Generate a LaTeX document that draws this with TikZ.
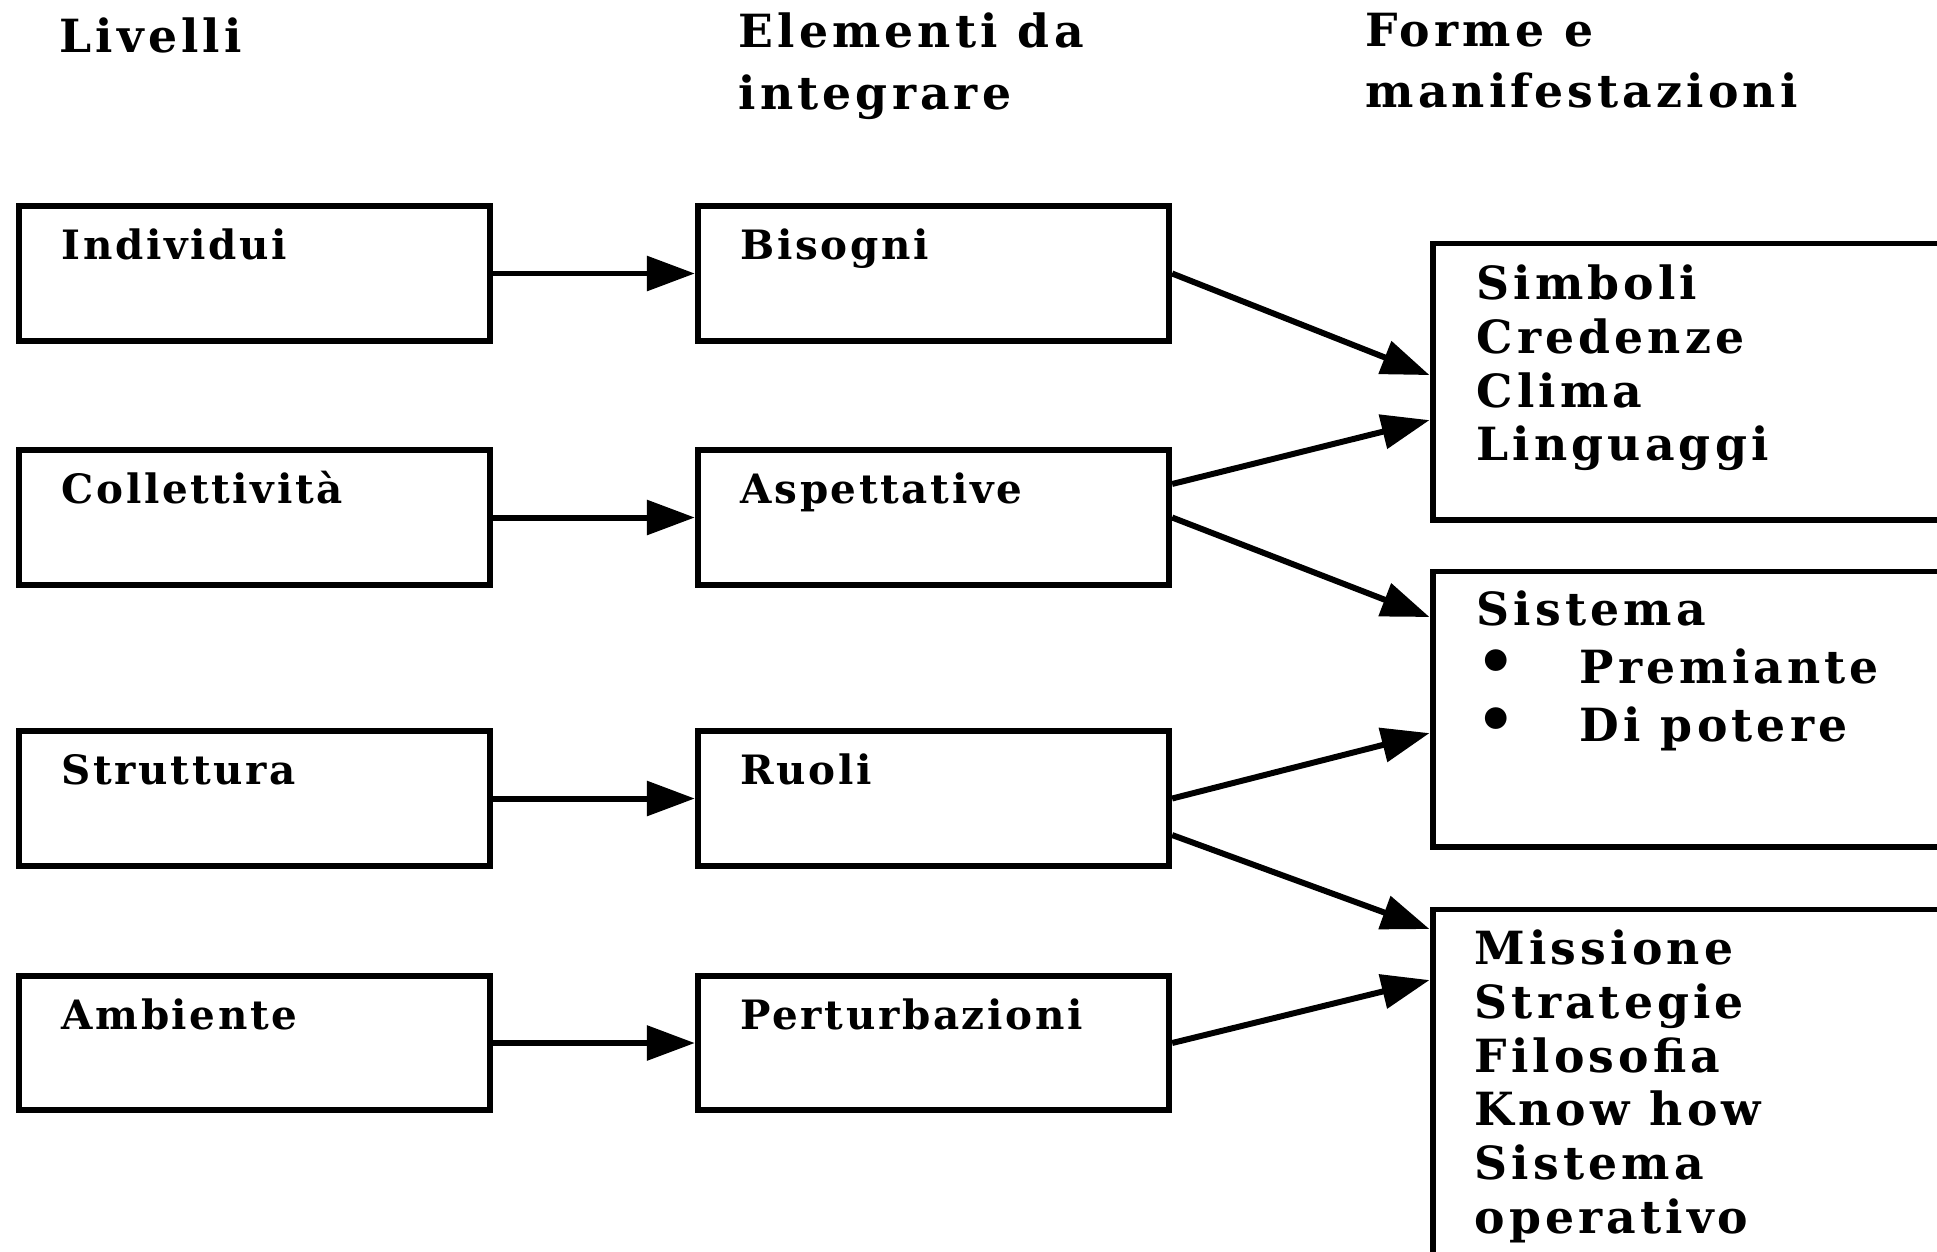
\documentclass[tikz,border=0pt]{standalone}
\usepackage{fontspec}
\setmainfont{DejaVu Serif}
\usetikzlibrary{arrows.meta}

\begin{document}
\begin{tikzpicture}[x=0.01cm,y=-0.01cm,
	box/.style={draw,line width=1.7pt,minimum width=4.71cm,minimum height=1.34cm,inner sep=0pt},
	bigbox/.style={draw,line width=1.7pt,minimum width=7cm,inner sep=0pt,anchor=north west},
	arr/.style={line width=1.7pt,-{Triangle[length=0.48cm,width=0.34cm]}},
	lbl/.style={font=\bfseries\fontsize{11.5}{13}\selectfont\addfontfeature{LetterSpace=6.5},anchor=base west,inner sep=0pt,xshift=0.45cm,yshift=-0.56cm},
	hdr/.style={font=\bfseries\fontsize{13}{17.6}\selectfont\addfontfeature{LetterSpace=9},align=left,anchor=north west,inner sep=0pt},
	lst/.style={font=\bfseries\fontsize{13}{15.3}\selectfont\addfontfeature{LetterSpace=9},align=left,anchor=north west,inner sep=0pt}]
	\useasboundingbox (0,0) rectangle (1937,1251);
	\clip (0,0) rectangle (1937,1251);
	\node[hdr] (liv) at (59,17) {Livelli};
	\node[hdr] (ele) at (738,12) {Elementi da\\integrare};
	\node[hdr] (for) at (1365,12) {Forme e\\manifestazioni};
	\node[box,label={[lbl]north west:Individui}] (ind) at (254.5,273.5) {};
	\node[box,label={[lbl]north west:Collettività}] (col) at (254.5,517.5) {};
	\node[box,label={[lbl]north west:Struttura}] (str) at (254.5,798.5) {};
	\node[box,label={[lbl]north west:Ambiente}] (amb) at (254.5,1043) {};
	\node[box,label={[lbl]north west:Bisogni}] (bis) at (933.5,273.5) {};
	\node[box,label={[lbl]north west:Aspettative}] (asp) at (933.5,517.5) {};
	\node[box,label={[lbl]north west:Ruoli}] (ruo) at (933.5,798.5) {};
	\node[box,label={[lbl]north west:Perturbazioni}] (per) at (933.5,1043) {};
	\node[bigbox,minimum height=2.76cm] (sim) at (1429.5,240.5) {};
	\node[bigbox,minimum height=2.75cm] (sis) at (1429.5,568.5) {};
	\node[bigbox,minimum height=5cm] (mis) at (1429.5,906.5) {};
	\node[lst] (simt) at (1476,264) {Simboli\\Credenze\\Clima\\Linguaggi};
	\node[lst,font=\bfseries\fontsize{13}{16.5}\selectfont\addfontfeature{LetterSpace=9}] (sist) at (1476,590) {Sistema\\\makebox[1.03cm][l]{\scalebox{1.35}{\textbullet}}Premiante\\\makebox[1.03cm][l]{\scalebox{1.35}{\textbullet}}Di potere};
	\node[lst] (mist) at (1474,929) {Missione\\Strategie\\Filosofia\\Know how\\Sistema\\operativo};
	\draw[arr] (ind) -- (bis);
	\draw[arr] (col) -- (asp);
	\draw[arr] (str) -- (ruo);
	\draw[arr] (amb) -- (per);
	\draw[arr] (bis.east) -- ([yshift=-1.345cm]sim.north west);
	\draw[arr] ([yshift=0.335cm]asp.east) -- ([yshift=-1.795cm]sim.north west);
	\draw[arr] (asp.east) -- ([yshift=-0.485cm]sis.north west);
	\draw[arr] (ruo.east) -- ([yshift=-1.645cm]sis.north west);
	\draw[arr] ([yshift=-0.365cm]ruo.east) -- ([yshift=-0.225cm]mis.north west);
	\draw[arr] (per.east) -- ([yshift=-0.735cm]mis.north west);
\end{tikzpicture}
\end{document}
